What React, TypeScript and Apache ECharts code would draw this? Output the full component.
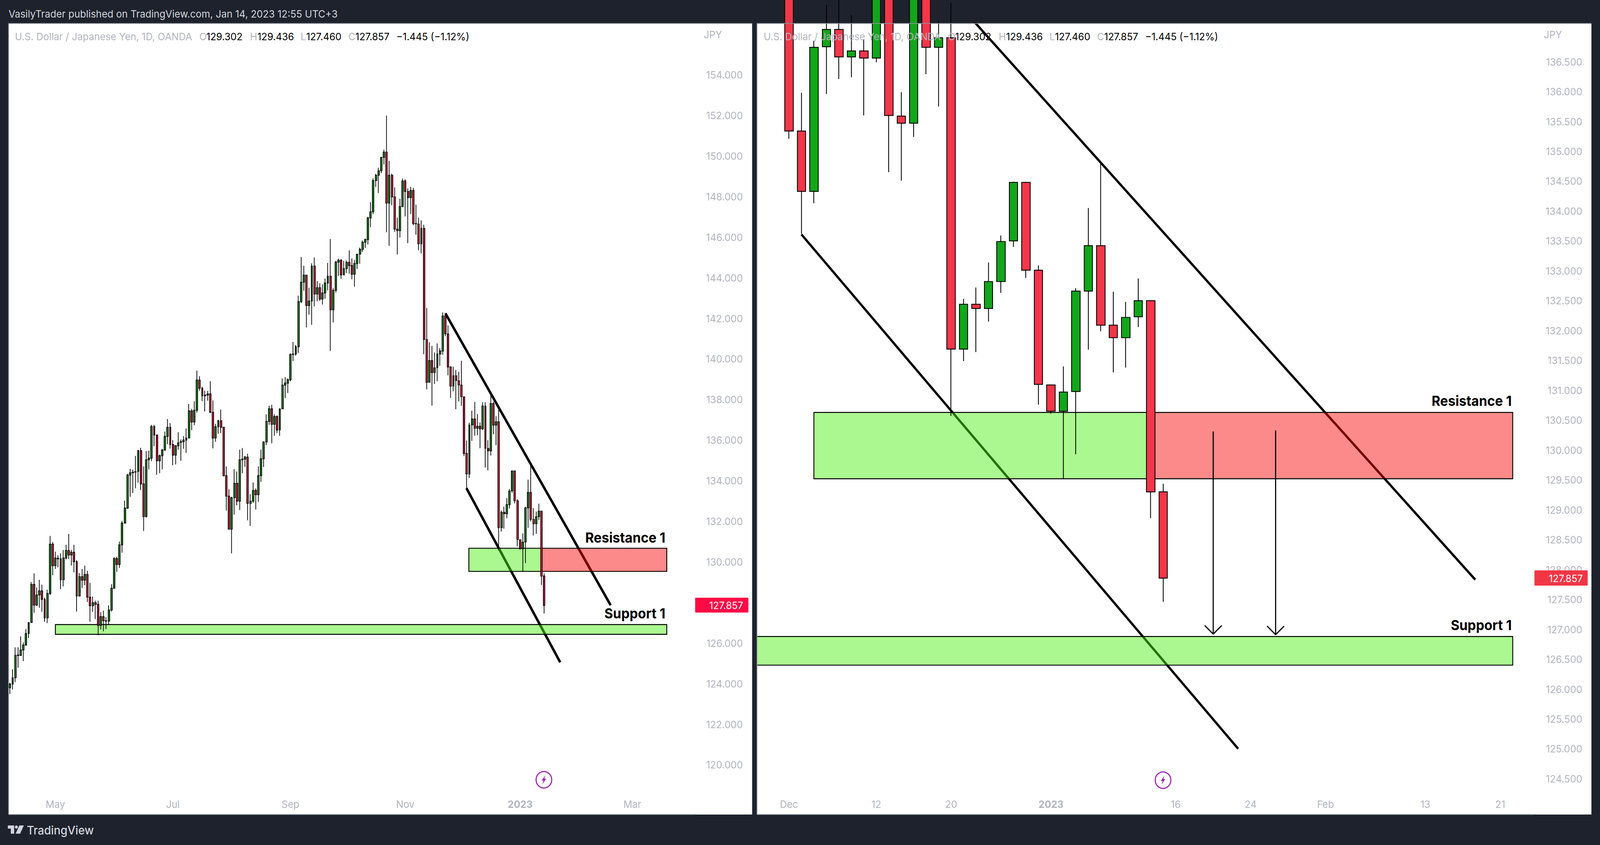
import { useEffect, useRef } from "react";
import * as echarts from "echarts";

// USD/JPY daily candles, one row per session, Apr 2022 - Jan 13 2023
const opens = [
  123.80,123.98,124.29,125.39,125.39,125.66,125.90,126.47,127.01,128.89,
  127.87,128.37,128.57,128.15,127.24,128.44,130.87,129.81,130.15,130.15,
  129.12,130.19,130.56,130.34,130.47,130.01,128.32,129.27,129.10,129.38,
  128.26,127.84,127.99,127.91,126.87,127.30,127.10,127.08,127.63,128.70,
  130.16,129.87,130.84,131.91,132.65,134.28,134.39,134.42,134.46,135.48,
  133.84,132.23,135.03,135.11,136.67,136.25,134.98,135.23,135.51,136.18,
  136.63,135.78,135.26,135.72,135.89,135.92,136.00,136.10,137.44,136.89,
  137.47,138.96,138.55,138.22,138.22,138.28,137.37,136.10,136.66,136.95,
  136.63,134.25,133.24,131.61,133.16,133.87,132.99,135.03,135.06,135.16,
  132.88,132.99,133.52,133.31,134.25,135.08,135.91,136.92,137.54,136.78,
  137.16,136.50,137.54,138.71,138.81,138.97,140.22,140.24,140.60,142.82,
  143.78,144.13,142.63,142.85,144.57,143.20,143.51,142.95,143.25,143.74,
  144.07,142.42,143.38,144.77,144.86,144.14,144.45,144.76,144.60,144.17,
  144.70,145.16,145.40,145.75,145.88,146.95,147.25,148.79,149.05,149.27,
  149.93,150.19,147.68,149.05,147.98,146.39,146.32,147.51,148.77,148.25,
  147.95,148.30,146.67,146.64,145.67,146.43,140.95,138.85,139.92,139.33,
  139.57,140.24,140.39,142.12,141.23,139.60,138.66,139.17,138.92,138.71,
  138.13,135.34,134.33,136.75,137.04,136.58,136.68,136.56,137.67,135.59,
  135.47,137.80,136.74,136.90,131.69,132.44,132.37,132.82,133.50,134.48,
  133.01,131.09,130.65,130.98,132.66,133.42,132.09,131.88,132.23,132.50,129.302,
];
const closes = [
  123.98,124.29,125.39,125.41,125.66,125.90,126.47,127.01,128.89,127.87,
  128.37,128.57,128.15,127.24,128.44,130.87,129.81,130.19,130.18,129.12,
  130.19,130.56,130.34,130.47,130.01,128.32,129.27,129.10,129.38,128.26,
  127.84,127.99,127.91,126.87,127.30,127.10,127.08,127.63,128.70,130.16,
  129.87,130.84,131.91,132.65,134.28,134.39,134.42,134.44,135.48,133.84,
  132.23,135.03,135.11,136.67,136.25,134.98,135.23,135.51,136.18,136.63,
  135.78,135.26,135.72,135.86,135.92,136.00,136.10,137.44,136.89,137.47,
  138.96,138.55,138.18,138.18,138.28,137.37,136.10,136.66,136.95,136.63,
  134.25,133.24,131.61,133.16,133.87,132.99,135.03,135.06,135.16,132.88,
  132.99,133.52,133.31,134.25,135.08,135.91,136.92,137.54,136.78,137.16,
  136.50,137.54,138.71,138.81,138.97,140.22,140.24,140.60,142.82,143.78,
  144.13,142.63,142.85,144.57,143.20,143.51,142.95,143.25,143.74,144.07,
  142.42,143.38,144.77,144.86,144.14,144.45,144.76,144.60,144.17,144.70,
  145.16,145.40,145.75,145.88,146.95,147.25,148.79,149.05,149.27,149.93,
  150.19,147.68,149.05,147.98,146.40,146.32,147.51,148.77,148.25,147.95,
  148.30,146.67,146.66,145.67,146.43,140.96,138.85,139.92,139.33,139.56,
  140.24,140.39,142.12,141.24,139.60,138.66,139.17,138.94,138.72,138.14,
  135.34,134.33,136.74,137.04,136.58,136.68,136.56,137.68,135.60,135.47,
  137.80,136.74,136.90,131.69,132.44,132.37,132.82,133.49,134.48,133.01,
  131.10,130.65,130.97,132.66,133.42,132.09,131.88,132.22,132.50,129.30,127.857,
];
const lows = [
  123.49,123.71,124.07,124.79,125.37,125.11,125.88,126.25,126.99,127.49,
  127.83,127.74,127.54,127.05,126.98,128.37,129.34,129.65,129.73,128.65,
  128.79,130.12,130.14,129.82,129.48,127.55,128.29,128.71,128.85,128.02,
  127.05,127.54,127.18,126.38,126.67,126.58,126.69,126.89,127.55,128.68,
  129.51,129.70,130.45,131.89,132.61,133.21,133.39,133.63,133.90,133.54,
  131.52,132.19,134.56,134.96,135.70,134.29,134.37,134.56,135.48,135.80,
  135.58,134.76,134.80,135.53,134.98,135.57,135.37,136.08,136.49,136.73,
  137.36,138.43,137.92,137.41,137.94,137.33,135.59,135.92,136.31,136.34,
  134.21,132.53,131.59,130.42,132.33,132.79,132.55,134.37,134.68,132.05,
  131.77,132.91,132.58,132.96,133.94,134.67,135.75,136.75,135.84,136.21,
  136.34,136.21,137.54,138.07,138.32,138.90,139.90,140.16,140.29,142.75,
  143.36,141.55,142.18,141.68,142.59,142.84,142.86,142.68,142.97,143.38,
  140.39,141.80,143.27,144.09,143.95,144.13,144.23,144.20,143.92,143.56,
  144.43,144.69,145.27,145.47,145.64,146.49,147.13,148.47,148.17,149.15,
  149.59,146.24,145.57,147.57,146.26,145.15,145.98,147.48,147.02,145.70,
  147.14,146.59,146.12,145.35,145.20,140.23,138.50,138.83,137.70,138.77,
  138.90,139.66,140.20,141.12,139.19,138.08,138.40,137.52,137.90,137.69,
  135.21,133.62,134.13,135.96,136.21,136.24,135.60,136.49,134.65,134.51,
  135.24,136.29,135.75,130.57,131.49,131.64,132.15,132.63,133.40,132.88,
  130.76,130.61,129.51,129.93,131.68,131.99,131.30,131.38,132.06,128.86,127.46,
];
const highs = [
  124.04,124.70,125.79,125.79,126.33,126.03,126.69,127.03,129.01,129.43,
  128.74,129.12,128.88,128.24,128.63,131.28,130.97,130.50,130.32,130.42,
  130.58,130.84,131.37,130.59,130.84,130.08,129.45,129.65,129.81,129.56,
  128.97,128.29,128.09,128.09,127.52,127.60,127.27,127.85,128.90,130.23,
  130.25,131.00,132.02,133.02,134.34,134.58,134.54,135.22,135.51,135.62,
  134.70,135.45,135.48,136.75,136.75,136.27,135.29,135.57,136.42,137.04,
  136.84,136.00,135.75,136.39,136.03,136.20,136.58,137.78,137.54,137.91,
  139.42,139.15,138.63,138.43,138.43,138.90,137.96,136.80,137.00,137.50,
  136.65,134.70,133.58,133.21,134.57,134.45,135.53,135.61,135.22,135.33,
  133.34,133.91,133.62,134.70,135.53,135.94,137.27,137.69,137.74,137.27,
  137.22,137.55,139.04,139.10,139.04,140.27,140.83,140.69,143.12,145.02,
  144.59,144.15,143.51,144.71,145.00,143.83,143.73,143.67,143.96,144.73,
  145.91,143.49,144.83,144.94,144.92,144.83,144.85,145.35,144.95,144.88,
  145.18,145.48,145.83,145.93,147.00,147.72,148.90,149.12,149.42,149.95,
  150.31,151.99,149.76,149.13,148.45,146.96,147.89,148.89,148.85,148.40,
  148.48,148.43,147.60,146.96,146.83,146.61,142.51,140.82,140.64,140.32,
  140.76,140.53,142.29,142.20,141.65,139.64,139.62,139.45,139.37,139.91,
  138.15,135.98,136.85,137.45,137.88,137.28,136.87,137.87,137.87,135.99,
  138.21,137.89,137.18,137.49,132.53,132.72,133.14,133.59,134.49,134.49,
  133.09,131.09,131.40,132.71,134.05,134.79,132.65,132.48,132.87,132.50,129.436,
];

// the zoomed panel shows the last 31 sessions
const zoomStart = 170;

const leftPrices = [120,122,124,126,128,130,132,134,136,138,140,142,144,146,148,150,152,154];
const rightPrices = [124.5,125,125.5,126,126.5,127,127.5,128,128.5,129,129.5,130,130.5,131,131.5,132,132.5,133,133.5,134,134.5,135,135.5,136,136.5];

const leftTimeTicks = [17,61,105,148,191,233];
const leftTimeLabels = ["May","Jul","Sep","Nov","2023","Mar"];
const rightTimeTicks = [0,7,13,21,31,37,43,51,57];
const rightTimeLabels = ["Dec","12","20","2023","16","24","Feb","13","21"];

// zones: [first session, last session, top price, bottom price]
const leftSupport = [[17,245.9,126.91,126.43]];
const leftGreenZone = [[171.8,199,130.67,129.53]];
const leftRedZone = [[199,245.9,130.67,129.53]];
const rightSupport = [[-4,58,126.88,126.40]];
const rightGreenZone = [[2,29,130.63,129.52]];
const rightRedZone = [[29,58,130.63,129.52]];

const leftUpperLine = [[163,142.25],[224.9,127.86]];
const leftLowerLine = [[170.9,133.63],[206,125.05]];
const rightUpperLine = [[14.5,137.25],[55,127.83]];
const rightLowerLine = [[1,133.61],[36,125.0]];

const arrowA = [[34,130.31],[34,126.92],[33.32,127.064],[34,126.92],[34.68,127.064]];
const arrowB = [[39,130.33],[39,126.91],[38.32,127.054],[39,126.91],[39.68,127.054]];

const ohlc = (from: number) =>
  opens.slice(from).map((o, i) => [i, o, closes[from + i], lows[from + i], highs[from + i]]);

const UI_FONT = "Inter";
const GREY = "#b2b5be";
const DESIGN_WIDTH = 4295;
const DESIGN_HEIGHT = 2163;

function xAxis(gridIndex: number, min: number, max: number, ticks: number[], labels: string[]) {
  return {
    type: "value",
    gridIndex,
    min,
    max,
    splitLine: { show: false },
    axisLine: { show: false },
    axisTick: { show: false },
    axisLabel: {
      inside: true,
      margin: 14,
      customValues: ticks,
      color: GREY,
      fontFamily: UI_FONT,
      fontSize: 26,
      formatter: (v: number) => {
        const label = labels[ticks.indexOf(v)] ?? "";
        return label === "2023" ? `{b|${label}}` : label;
      },
      rich: { b: { color: GREY, fontFamily: UI_FONT, fontSize: 26, fontWeight: 700 } },
    },
  };
}

function yAxis(gridIndex: number, min: number, max: number, ticks: number[], margin: number) {
  return {
    type: "value",
    gridIndex,
    position: "right",
    min,
    max,
    scale: true,
    splitLine: { show: false },
    axisLine: { show: false },
    axisTick: { show: false },
    axisLabel: {
      customValues: ticks,
      margin,
      align: "right",
      color: GREY,
      fontFamily: UI_FONT,
      fontSize: 26,
      formatter: (v: number) => v.toFixed(3),
    },
  };
}

function candles(axisIndex: number, data: number[][], up: string, down: string, barWidth: number, borderWidth: number) {
  return {
    type: "candlestick",
    xAxisIndex: axisIndex,
    yAxisIndex: axisIndex,
    data,
    barWidth,
    z: 3,
    itemStyle: {
      color: up,
      color0: down,
      borderColor: "#000000",
      borderColor0: "#000000",
      borderColorDoji: "#000000",
      borderWidth,
    },
  };
}

function zone(axisIndex: number, rows: number[][], fill: string) {
  return {
    type: "custom",
    xAxisIndex: axisIndex,
    yAxisIndex: axisIndex,
    data: rows,
    encode: { x: [0, 1], y: [2, 3] },
    clip: true,
    z: 2,
    renderItem: (_: any, api: any) => {
      const a = api.coord([api.value(0), api.value(2)]);
      const b = api.coord([api.value(1), api.value(3)]);
      return {
        type: "rect",
        shape: { x: a[0], y: a[1], width: b[0] - a[0], height: b[1] - a[1] },
        style: { fill, stroke: "#000000", lineWidth: 2.4 },
      };
    },
  };
}

function line(axisIndex: number, data: number[][], width: number, z: number) {
  return {
    type: "line",
    xAxisIndex: axisIndex,
    yAxisIndex: axisIndex,
    data,
    showSymbol: false,
    z,
    lineStyle: { color: "#000000", width },
  };
}

function label(text: string, x: number, y: number, fill: string, font: string, align = "left") {
  return {
    type: "text",
    x,
    y,
    z: 100,
    style: { text, fill, font, align, textAlign: align, verticalAlign: "middle", textVerticalAlign: "middle" },
  };
}

function legendRow(dx: number) {
  const font = `400 26px ${UI_FONT}`;
  return [
    label("U.S. Dollar / Japanese Yen, 1D, OANDA", 40 + dx, 93, GREY, font),
    label("O", 535 + dx, 93, GREY, font),
    label("129.302", 554 + dx, 93, "#000000", font),
    label("H", 671 + dx, 93, GREY, font),
    label("129.436", 691 + dx, 93, "#000000", font),
    label("L", 807 + dx, 93, GREY, font),
    label("127.460", 822 + dx, 93, "#000000", font),
    label("C", 935 + dx, 93, GREY, font),
    label("127.857", 954 + dx, 93, "#000000", font),
    label("\u22121.445 (\u22121.12%)", 1064 + dx, 93, "#000000", font),
  ];
}

function bolt(cx: number, cy: number) {
  return [
    { type: "circle", z: 100, shape: { cx, cy, r: 21 }, style: { fill: "none", stroke: "#9c27b0", lineWidth: 3 } },
    {
      type: "polygon",
      z: 100,
      shape: { points: [[cx + 4, cy - 12], [cx - 6, cy + 2], [cx - 1, cy + 2], [cx - 4, cy + 12], [cx + 6, cy - 3], [cx + 1, cy - 3]] },
      style: { fill: "#9c27b0" },
    },
  ];
}

function rule(x1: number, y1: number, x2: number, y2: number) {
  return { type: "line", z: 90, shape: { x1, y1, x2, y2 }, style: { stroke: "#8a8e97", lineWidth: 2 } };
}

export default function App() {
  const chartRef = useRef<HTMLDivElement>(null);
  // the browser window can be narrower than the design, so squeeze it to fit
  const squeeze = Math.min(1, window.innerWidth / DESIGN_WIDTH);

  useEffect(() => {
    if (!chartRef.current) return;
    const chart = echarts.init(chartRef.current, undefined, { renderer: "svg" });
    const tagFont = `400 26px ${UI_FONT}`;
    const noteFont = `700 35.5px ${UI_FONT}`;

    chart.setOption({
      animation: false,
      backgroundColor: "#1e222d",
      grid: [
        { left: 23, top: 60, width: 1839, height: 2025 },
        { left: 2032, top: 60, width: 2087, height: 2025 },
      ],
      xAxis: [
        xAxis(0, -0.53, 255.96, leftTimeTicks, leftTimeLabels),
        xAxis(1, -2.56, 59.74, rightTimeTicks, rightTimeLabels),
      ],
      yAxis: [
        yAxis(0, 117.55, 156.53, leftPrices, 132),
        yAxis(1, 123.9, 137.14, rightPrices, 128.5),
      ],
      series: [
        line(0, leftUpperLine, 6.5, 1),
        line(0, leftLowerLine, 6.5, 1),
        line(1, rightUpperLine, 6, 1),
        line(1, rightLowerLine, 6, 1),
        zone(0, leftSupport, "rgba(76,240,20,0.47)"),
        zone(0, leftGreenZone, "rgba(76,240,20,0.47)"),
        zone(0, leftRedZone, "rgba(248,0,0,0.46)"),
        zone(1, rightSupport, "rgba(76,240,20,0.47)"),
        zone(1, rightGreenZone, "rgba(76,240,20,0.47)"),
        zone(1, rightRedZone, "rgba(248,0,0,0.46)"),
        candles(0, ohlc(0), "#0e9c12", "#ff0a47", 4.4, 1.9),
        candles(1, ohlc(zoomStart), "#12a61a", "#f33649", 23, 2.2),
        line(1, arrowA, 3, 4),
        line(1, arrowB, 3, 4),
      ],
      graphic: [
        // white panels sit under the grids
        { type: "rect", z: -10, shape: { x: 23, y: 60, width: 1996, height: 2025 }, style: { fill: "#ffffff" } },
        { type: "rect", z: -10, shape: { x: 2032, y: 60, width: 2240, height: 2025 }, style: { fill: "#ffffff" } },
        rule(23, 60, 2019, 60),
        rule(23, 60, 23, 2085),
        rule(23, 2085, 1866, 2085),
        rule(2032, 60, 4272, 60),
        rule(2032, 60, 2032, 2085),
        rule(2032, 2085, 4119, 2085),

        label("VasilyTrader published on TradingView.com, Jan 14, 2023 12:55 UTC+3", 23, 35, "#d1d4dc", `400 26.2px ${UI_FONT}`),
        ...legendRow(0),
        ...legendRow(2010),
        label("JPY", 1889, 88, GREY, tagFont),
        label("JPY", 4144, 88, GREY, tagFont),

        label("Resistance 1", 1786, 1376, "#000000", noteFont, "right"),
        label("Support 1", 1786, 1570, "#000000", noteFont, "right"),
        label("Resistance 1", 4058, 1026, "#000000", noteFont, "right"),
        label("Support 1", 4058, 1600, "#000000", noteFont, "right"),

        { type: "rect", z: 100, shape: { x: 1866, y: 1530, width: 143, height: 38, r: 2 }, style: { fill: "#ff0a47" } },
        label("127.857", 1995, 1549, "#ffffff", tagFont, "right"),
        { type: "rect", z: 100, shape: { x: 4119, y: 1460, width: 143, height: 39, r: 2 }, style: { fill: "#f23645" } },
        label("127.857", 4249, 1480, "#ffffff", tagFont, "right"),

        ...bolt(1460, 1996),
        ...bolt(3122, 1997),

        // TradingView mark in the footer
        { type: "polygon", z: 100, shape: { points: [[21, 2113], [38, 2113], [38, 2134], [29, 2134], [29, 2121], [21, 2121]] }, style: { fill: "#d1d4dc" } },
        { type: "circle", z: 100, shape: { cx: 44, cy: 2117, r: 4 }, style: { fill: "#d1d4dc" } },
        { type: "polygon", z: 100, shape: { points: [[52, 2113], [64, 2113], [54, 2134], [42, 2134]] }, style: { fill: "#d1d4dc" } },
        label("TradingView", 72, 2125, "#d1d4dc", `500 30px ${UI_FONT}`),
      ],
    });

    return () => chart.dispose();
  }, []);

  return (
    <div
      ref={chartRef}
      style={{
        position: "absolute",
        left: 0,
        top: 0,
        width: DESIGN_WIDTH,
        height: DESIGN_HEIGHT,
        transform: `scaleX(${squeeze})`,
        transformOrigin: "0 0",
      }}
    />
  );
}
